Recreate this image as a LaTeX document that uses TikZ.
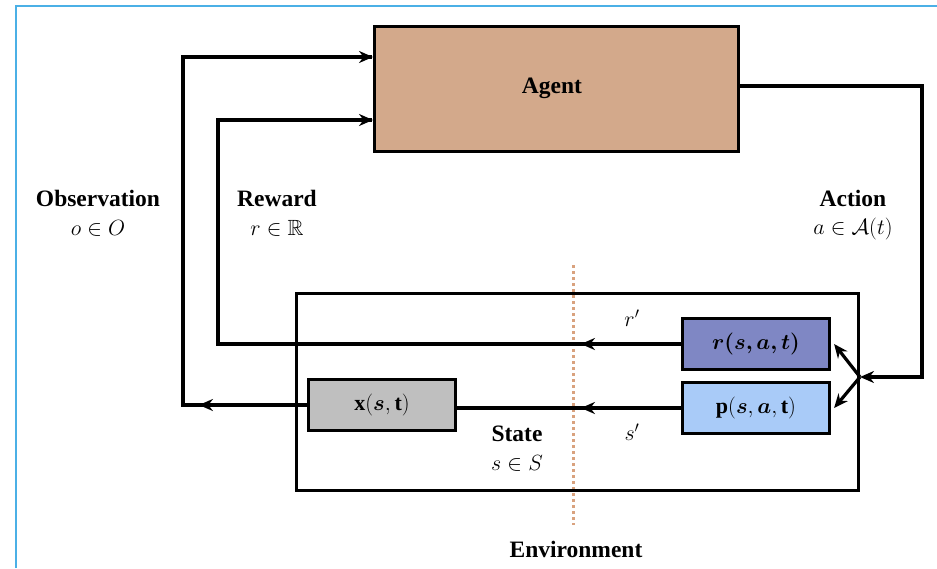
\RequirePackage{fix-cm}
\documentclass[tikz,border=0pt]{standalone}
\usepackage{amsmath,amssymb,bm}
\usepackage{fontspec}
\setmainfont{Liberation Serif}
\usetikzlibrary{arrows.meta,decorations.markings}

\definecolor{agentfill}{HTML}{D3A98B}
\definecolor{rfill}{HTML}{7F87C4}
\definecolor{pfill}{HTML}{A9CBF8}
\definecolor{xfill}{HTML}{BFBFBF}
\definecolor{framecol}{HTML}{4BB0E6}
\definecolor{divcol}{HTML}{D9A27E}

\tikzset{
  conn/.style={line width=3.2pt, draw=black},
  tip/.style={-{Stealth[length=14pt,width=12pt]}},
  boxed/.style={draw=black, line width=3.2pt, minimum width=147pt, minimum height=51pt, inner sep=0pt},
  midarrow/.style={postaction={decorate}, decoration={markings,
      mark=at position #1 with {\arrow{Stealth[length=14pt,width=12pt]}}}},
  lbl/.style={font=\fontsize{23.5}{27}\selectfont\bfseries, inner sep=0pt},
  mlbl/.style={font=\fontsize{22}{26}\selectfont, inner sep=0pt},
}

\begin{document}
\begin{tikzpicture}[x=1pt, y=-1pt, line join=miter]
\useasboundingbox (0,0) rectangle (937,568);

% outer frame (top and left edges)
\draw[framecol, line width=1.6pt] (16,568) -- (16,6) -- (937,6);

% agent
\node[draw=black, line width=3.2pt, fill=agentfill, minimum width=364pt, minimum height=125pt,
      inner sep=0pt, anchor=north west] (agent) at (373,25) {};
\node[lbl] (agentlbl) at (552,88) {Agent};

% boundary between agent-facing and inner parts of the environment
\draw[divcol, line width=3pt, dash pattern=on 3pt off 3pt] (573,265) -- (573,525);

% environment
\node[draw=black, line width=3.2pt, minimum width=562pt, minimum height=197pt,
      inner sep=0pt, anchor=north west] (env) at (295,292) {};

% inner blocks
\node[boxed, fill=rfill] (rbox) at (756,344) {\fontsize{22}{26}\selectfont$\bm{r(s,a,t)}$};
\node[boxed, fill=pfill] (pbox) at (756,408) {\fontsize{22}{26}\selectfont$\mathbf{p}(\bm{s},\bm{a},\mathbf{t})$};
\node[boxed, fill=xfill] (xbox) at (382,405) {\fontsize{22}{26}\selectfont$\mathbf{x}(\bm{s},\mathbf{t})$};

\coordinate (J) at (860,377);
\coordinate (obsturn) at (183,57);
\coordinate (rewturn) at (218,120);
\coordinate (actturn) at (922,86);

% action: agent -> environment
\draw[conn, tip] (agent.east |- actturn) -- (actturn) -- (actturn |- J) -- (J);
\draw[conn, tip] (J) -- ([xshift=3pt]rbox.east);
\draw[conn, tip] (J) -- ([xshift=3pt]pbox.east);

% reward back to agent
\draw[conn, midarrow=100pt] (rbox.west) -- (rewturn |- rbox.west) -- (rewturn)
  -- ([xshift=-1pt]agent.west |- rewturn);
\draw[conn, tip] ([xshift=-40pt]agent.west |- rewturn) -- (agent.west |- rewturn);

% observation back to agent
\draw[conn, midarrow=108pt] (xbox.west) -- (obsturn |- xbox.west) -- (obsturn)
  -- ([xshift=-1pt]agent.west |- obsturn);
\draw[conn, tip] ([xshift=-40pt]agent.west |- obsturn) -- (agent.west |- obsturn);

% next state
\draw[conn, midarrow=100pt] (pbox.west) -- (xbox.east |- pbox.west);

% labels
\node[lbl] (obslbl) at (98,198) {Observation};
\node[mlbl] (obsmath) at (98,228) {$o\in O$};
\node[lbl] (rewlbl) at (277,198) {Reward};
\node[mlbl] (rewmath) at (277,228) {$r\in\mathbb{R}$};
\node[lbl] (actlbl) at (853,198) {Action};
\node[mlbl] (actmath) at (853,229) {$a\in\mathcal{A}(t)$};
\node[mlbl] (rprime) at (632,318) {$r'$};
\node[mlbl] (sprime) at (632,432) {$s'$};
\node[lbl] (statelbl) at (517,434) {State};
\node[mlbl] (statemath) at (517,463) {$s\in S$};
\node[lbl] (envlbl) at (576,549) {Environment};
\end{tikzpicture}
\end{document}
